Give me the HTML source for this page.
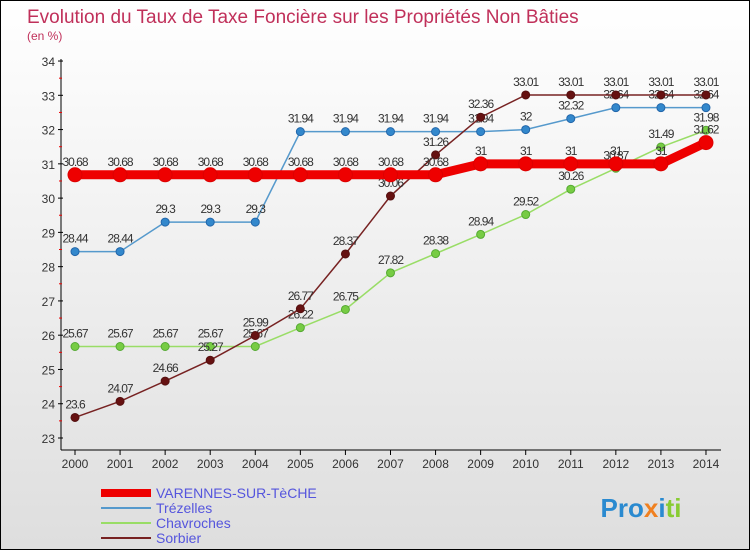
<!DOCTYPE html>
<html><head><meta charset="utf-8"><style>
body{margin:0;width:750px;height:550px;overflow:hidden;font-family:"Liberation Sans",sans-serif}
#wrap{position:relative;width:748px;height:548px;border:1px solid #000;background:linear-gradient(#fff,#dedede)}
</style></head><body>
<div id="wrap">
<svg id="chart" width="748" height="548"></svg>
</div>
<script>
const years=[2000,2001,2002,2003,2004,2005,2006,2007,2008,2009,2010,2011,2012,2013,2014];
const varennes=[30.68,30.68,30.68,30.68,30.68,30.68,30.68,30.68,30.68,31,31,31,31,31,31.62];
const trezelles=[28.44,28.44,29.3,29.3,29.3,31.94,31.94,31.94,31.94,31.94,32,32.32,32.64,32.64,32.64];
const chavroches=[25.67,25.67,25.67,25.67,25.67,26.22,26.75,27.82,28.38,28.94,29.52,30.26,30.87,31.49,31.98];
const sorbier=[23.6,24.07,24.66,25.27,25.99,26.77,28.37,30.06,31.26,32.36,33.01,33.01,33.01,33.01,33.01];
const yTicks=[23,24,25,26,27,28,29,30,31,32,33,34];
const NS="http://www.w3.org/2000/svg";
const svg=document.getElementById('chart');
const X=i=>74+i*45.07;
const Y=v=>437-(v-23)*34.27;
function el(t,a,p){const e=document.createElementNS(NS,t);for(const k in a)e.setAttribute(k,a[k]);(p||svg).appendChild(e);return e;}
function txt(x,y,s,a,col,anchor){const e=el('text',{x:x,y:y,'font-size':a,fill:col,'text-anchor':anchor||'middle'});e.textContent=s;return e;}
let t=txt(26,22,'Evolution du Taux de Taxe Foncière sur les Propriétés Non Bâties',19,'#c0305a','start');


t=txt(26,39,'(en %)',12,'#c0305a','start');


// axes
let ax=el('line',{x1:60,y1:58,x2:60,y2:449,stroke:'#000','stroke-width':1});


ax=el('line',{x1:60,y1:449,x2:720,y2:449,stroke:'#000','stroke-width':1});


yTicks.forEach(v=>{
  el('line',{x1:57,y1:Y(v),x2:62,y2:Y(v),stroke:'#000'});
  if(v<34) el('line',{x1:58,y1:Y(v+0.5),x2:61,y2:Y(v+0.5),stroke:'#e00'});
  const l=txt(54,Y(v)+5,String(v),12,'#333','end');
  
  
});
years.forEach((y,i)=>{
  el('line',{x1:X(i),y1:449,x2:X(i),y2:454,stroke:'#000'});
  const l=txt(X(i),467,String(y),12,'#333');
  
  
});
function series(name,vals,col,w,r,dot,stroke){
  const g=el('g',{});
  
  
  el('polyline',{points:vals.map((v,i)=>X(i)+','+Y(v)).join(' '),fill:'none',stroke:col,'stroke-width':w},g);
  vals.forEach((v,i)=>{
    const c=el('circle',{cx:X(i),cy:Y(v),r:r,fill:dot,stroke:stroke,'stroke-width':1},g);
    
    
    const l=txt(X(i),Y(v)-9,String(v),12,'#333');
    l.setAttribute('letter-spacing','-1');
    
    
    g.appendChild(l);
  });
}
series('chavroches',chavroches,'#99dd66',1.5,4,'#77cc44','#55aa33');
series('trezelles',trezelles,'#5599cc',1.5,4,'#3388cc','#2266aa');
series('sorbier',sorbier,'#772222',1.5,4,'#661111','#551111');
series('varennes',varennes,'#ee0000',9,7,'#ee0000','#dd0000');
// legend
const leg=[['VARENNES-SUR-TèCHE','#ee0000',8],['Trézelles','#5599cc',2],['Chavroches','#99dd66',2],['Sorbier','#772222',2]];
leg.forEach((d,i)=>{
  const g=el('g',{});
  
  
  const y=492+i*15;
  el('line',{x1:100,y1:y,x2:150,y2:y,stroke:d[1],'stroke-width':d[2]},g);
  const l=txt(155,y+5,d[0],14,'#5555dd','start');
  g.appendChild(l);
});
const lg=txt(640,516,'',26,'#f08020');


lg.setAttribute('font-weight','bold');
lg.innerHTML='<tspan fill="#2a8ad0">Pro</tspan><tspan fill="#f08020">x</tspan><tspan fill="#2a8ad0">i</tspan><tspan fill="#88cc33">ti</tspan>';
</script>
</body></html>
